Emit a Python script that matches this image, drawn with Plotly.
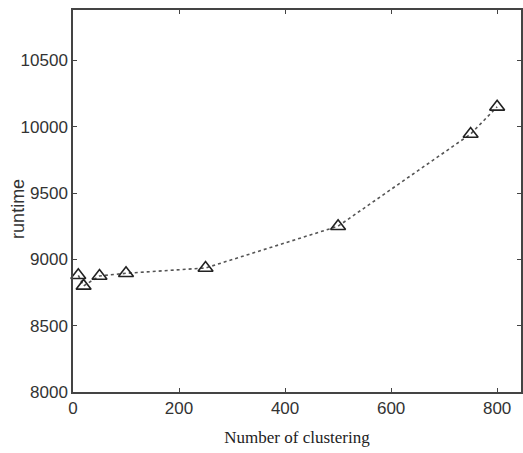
import plotly.graph_objects as go

clusters = [10, 20, 50, 100, 250, 500, 750, 800]
runtime = [8880, 8800, 8875, 8895, 8935, 9250, 9945, 10150]
x_ticks = [0, 200, 400, 600, 800]
y_ticks = [8000, 8500, 9000, 9500, 10000, 10500]
y_tick_text = ["8000", "8500", "9000", "9500", "10000", "10500"]

fig = go.Figure()
fig.add_trace(go.Scatter(
    x=clusters, y=runtime, mode="lines+markers",
    line=dict(color="#555555", width=1.6, dash="dot"),
    marker=dict(symbol="triangle-up-open", size=13, color="#222222",
                line=dict(width=1.6, color="#222222")),
    showlegend=False, cliponaxis=False,
))

axis_common = dict(
    showline=True, linecolor="#444444", linewidth=1.5, mirror="ticks",
    ticks="inside", ticklen=4, tickcolor="#444444", tickwidth=1,
    showgrid=False, zeroline=False,
    tickfont=dict(family="Liberation Sans, Arial", size=17, color="#333333"),
)

fig.update_layout(
    width=523, height=453,
    margin=dict(l=73, r=0, t=10, b=61),
    paper_bgcolor="white", plot_bgcolor="white",
    xaxis=dict(range=[0, 845], tickvals=x_ticks, **axis_common,
               title=dict(text="Number of clustering", standoff=14,
                          font=dict(family="Liberation Serif, Times New Roman", size=17, color="#222222"))),
    yaxis=dict(range=[8000, 10880], tickvals=y_ticks, ticktext=y_tick_text, **axis_common),
    annotations=[dict(text="runtime", textangle=-90, xref="paper", yref="paper",
                      x=(17 - 73) / 450, y=0.48, showarrow=False,
                      xanchor="center", yanchor="middle",
                      font=dict(family="Liberation Sans, Arial", size=18, color="#333333"))],
)

fig.write_html("out.html")
